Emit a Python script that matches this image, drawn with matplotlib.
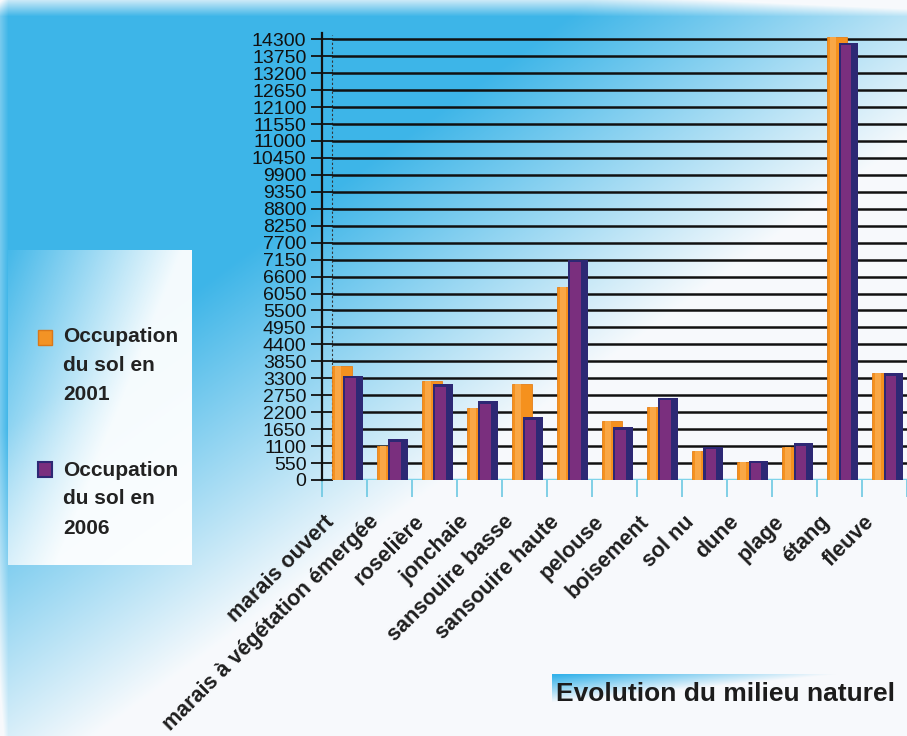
import numpy as np
import matplotlib
matplotlib.use("Agg")
import matplotlib.pyplot as plt
from matplotlib.patches import Rectangle

plt.rcParams['font.family'] = ['Liberation Sans', 'DejaVu Sans']

# surfaces par type de milieu
categories = ["marais ouvert", "marais à végétation émergée", "roselière", "jonchaie",
              "sansouire basse", "sansouire haute", "pelouse", "boisement", "sol nu",
              "dune", "plage", "étang", "fleuve"]
occ_2001 = [3700, 1100, 3200, 2350, 3100, 6250, 1900, 2380, 950, 600, 1080, 14380, 3460]
occ_2006 = [3390, 1330, 3120, 2570, 2040, 7150, 1720, 2670, 1080, 630, 1190, 14190, 3480]
yticks = list(range(0, 14301, 550))

W, H = 907, 736
fig = plt.figure(figsize=(W / 100, H / 100), dpi=100)

# fond dégradé bleu -> blanc
bg = fig.add_axes([0, 0, 1, 1], zorder=-10)
yy, xx = np.mgrid[0:H, 0:W]
s = xx / 820 + yy / 600
t = np.clip((s - 0.72) / 0.62, 0, 1)
edge = np.clip(1 - yy / 16, 0, 1) * 0.75 + np.clip(1 - xx / 8, 0, 1) * 0.3
t = np.clip(t + edge, 0, 1)[..., None]
blue = np.array([0.24, 0.71, 0.91])
white = np.array([0.97, 0.98, 0.99])
bg.imshow(blue * (1 - t) + white * t, aspect='auto', interpolation='bilinear')
bg.axis('off')

# cadre de la légende
lx0, lx1, ly0, ly1 = 8, 192, 250, 565
lg = fig.add_axes([lx0 / W, 1 - ly1 / H, (lx1 - lx0) / W, (ly1 - ly0) / H], zorder=-5)
v, u = np.mgrid[0:1:100j, 0:1:100j]
alpha = np.clip(0.05 + 0.95 * u + 0.65 * v, 0, 0.95)
img = np.ones((100, 100, 4))
img[..., 3] = alpha
lg.imshow(img, aspect='auto', interpolation='bilinear')
lg.axis('off')

def fx(x):
    return x / W

def fy(y):
    return 1 - y / H

fig.patches.append(Rectangle((fx(38), fy(345)), 14 / W, 15 / H, transform=fig.transFigure,
                             facecolor='#f39325', edgecolor='#d9771a', lw=1))
fig.patches.append(Rectangle((fx(38), fy(477)), 14 / W, 15 / H, transform=fig.transFigure,
                             facecolor='#7a2f7e', edgecolor='#2d2874', lw=1.5))
for y0, year in [(337, "2001"), (470, "2006")]:
    for k, line in enumerate(["Occupation", "du sol en", year]):
        fig.text(fx(63), fy(y0 + 29 * k), line, fontsize=15, fontweight='bold',
                 color='#222222', va='center', ha='left')

# bandeau du titre
tb = fig.add_axes([fx(552), fy(704), 300 / W, 30 / H], zorder=-5)
v, u = np.mgrid[0:1:60j, 0:1:200j]
a = np.clip(1.05 - 1.1 * u - 1.1 * v, 0, 1)
band = np.zeros((60, 200, 4))
band[..., :3] = [0.2, 0.7, 0.92]
band[..., 3] = a
tb.imshow(band, aspect='auto', interpolation='bilinear')
tb.axis('off')
fig.text(fx(556), fy(694), "Evolution du milieu naturel", fontsize=19, fontweight='bold',
         color='#1c1c1c', va='center', ha='left')

# graphique principal
ax = fig.add_axes([321.7 / W, 256 / H, 585.3 / W, 450 / H])
ax.set_facecolor('none')
ax.set_xlim(-0.5, 12.5)
ax.set_ylim(0, 14600)

x = np.arange(len(categories))
ax.hlines(yticks[1:], -0.28, 12.5, color='#111111', lw=1.8, zorder=1)
ax.axhline(0, color='#7fd3ea', lw=2.5, zorder=1)
ax.vlines(-0.28, 0, 14450, color='#333333', lw=0.8, linestyles=(0, (2, 2)), zorder=1)

ax.bar(x - 0.05, occ_2001, width=0.44, color='#f5911e', edgecolor='#e5801a', lw=0.6, zorder=3)
ax.bar(x - 0.14, occ_2001, width=0.12, color='#f9a746', lw=0, zorder=3)
ax.bar(x + 0.2, occ_2006, width=0.44, color='#2d2874', lw=0, zorder=4)
ax.bar(x + 0.145, np.array(occ_2006) - 90, width=0.24, color='#7a2f7e', lw=0, zorder=4)

ax.set_yticks(yticks)
ax.set_yticklabels([str(v) for v in yticks], fontsize=14, color='#111111')
ax.tick_params(axis='y', direction='inout', length=16, width=1.3, color='#111111', pad=3)

ax.set_xticks(np.arange(-0.5, 13, 1))
ax.set_xticklabels([])
ax.tick_params(axis='x', which='major', direction='out', length=12, width=1.2, color='#6cc8e2')
ax.set_xticks(x - 0.3, minor=True)
ax.set_xticklabels(categories, minor=True, rotation=45, ha='right', va='center',
                   rotation_mode='anchor', fontsize=15.5, fontweight='bold', color='#1e1e1e')
ax.tick_params(axis='x', which='minor', length=0, pad=28)

for side in ['top', 'right', 'bottom']:
    ax.spines[side].set_visible(False)
ax.spines['left'].set_color('#111111')
ax.spines['left'].set_linewidth(1.6)
ax.spines['left'].set_bounds(0, 14500)

fig.savefig("out.png", dpi=100)
